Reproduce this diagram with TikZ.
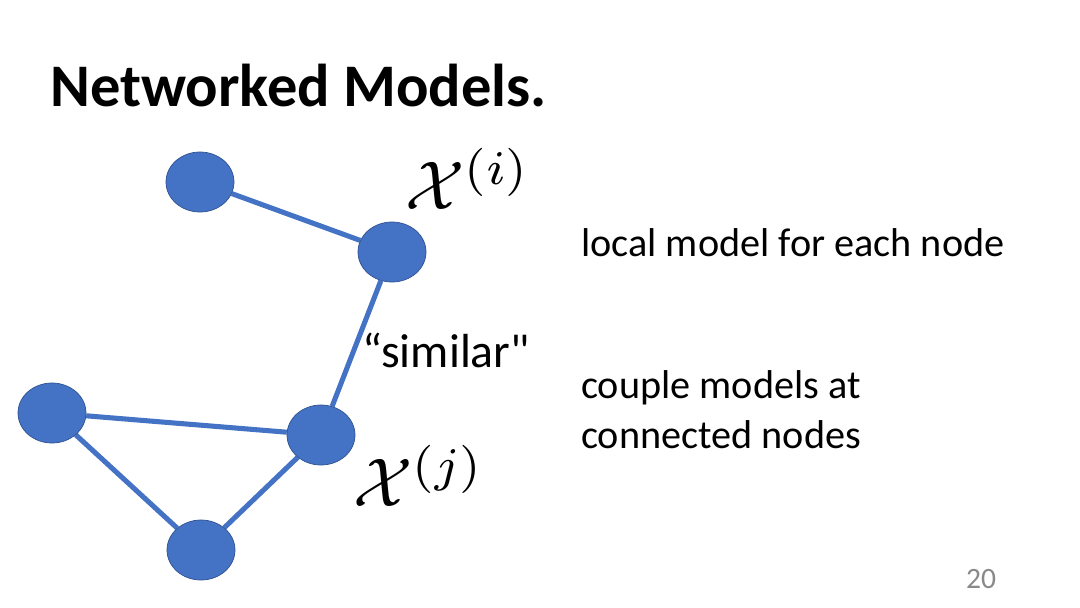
\documentclass[tikz,border=0pt]{standalone}
\usepackage{fontspec}
\setmainfont{Carlito}
\newfontfamily\plainquote{Carlito}[Ligatures=TeXOff]
\usetikzlibrary{backgrounds,shapes.geometric}
\definecolor{nodeblue}{RGB}{68,114,196}
\definecolor{rimblue}{RGB}{47,82,143}
\definecolor{pagegray}{RGB}{137,137,137}
\begin{document}
\begin{tikzpicture}[x=0.025cm, y=-0.025cm,
  vert/.style={ellipse,draw=rimblue,line width=0.5pt,fill=nodeblue,minimum width=1.7cm,minimum height=1.5cm,inner sep=0pt},
  link/.style={nodeblue,line width=3.6pt},
  mathlbl/.style={font=\normalsize,scale=4.9,inner sep=0pt},
  txt/.style={anchor=base west,inner sep=0pt,font=\fontsize{28.6}{34}\selectfont}]
\useasboundingbox (0,0) rectangle (1080,607);
\node[anchor=base west,inner sep=0pt,font=\fontsize{43}{50}\selectfont\bfseries] (title) at (50,106) {Networked Models.};
% the graph
\node[vert] (top) at (200,182) {};
\node[vert] (vi) at (392,252) {};
\node[vert] (left) at (52,413) {};
\node[vert] (vj) at (321,435) {};
\node[vert] (bot) at (201,550) {};
\begin{scope}[on background layer]
\draw[link] (top) -- (vi);
\draw[link] (vi) -- (vj);
\draw[link] (left) -- (vj);
\draw[link] (left) -- (bot);
\draw[link] (bot) -- (vj);
\end{scope}
\node[mathlbl] (xi) at (468,179) {$\mathcal{X}^{(i)}$};
\node[mathlbl] (xj) at (419,476) {$\mathcal{X}^{(j)}$};
\node[txt,font=\fontsize{34}{40}\selectfont] (sim) at (362,367) {\plainquote “similar"};
% right hand text
\node[txt] (local) at (581,256) {local model for each node};
\node[txt] (couple) at (581,398) {couple models at};
\node[txt] (conn) at (581,448) {connected nodes};
\node[font=\fontsize{21}{25}\selectfont,text=pagegray] (page) at (981,579) {20};
\end{tikzpicture}
\end{document}
